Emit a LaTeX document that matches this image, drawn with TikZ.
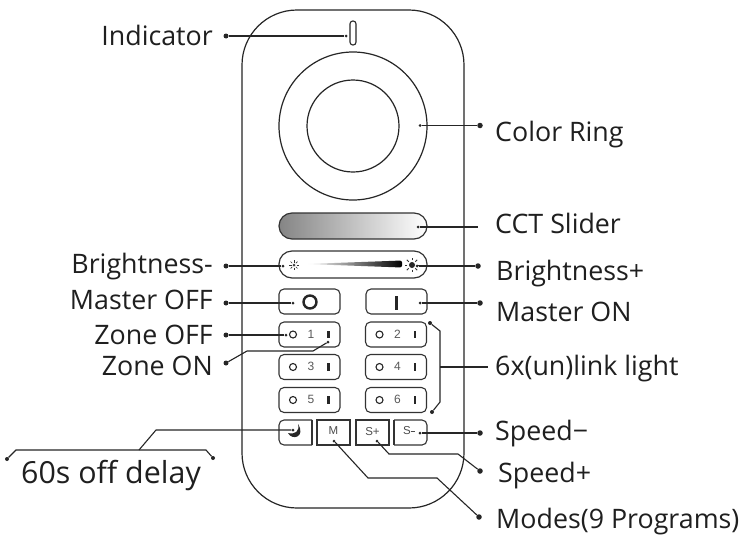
\documentclass[tikz,border=0pt]{standalone}
\usepackage{fontspec}
\setmainfont{Open Sans}
\newfontfamily\btnfont{Liberation Sans}
\tikzset{
  x=1pt,y=-1pt,
  body/.style={draw=black!85,line width=1.2pt,rounded corners=55pt,minimum width=222pt,minimum height=498pt,inner sep=0pt},
  bar/.style={draw=black!80,line width=1.2pt,rounded corners=#1},
  key/.style={draw=black!80,line width=1.1pt,rounded corners=5pt,minimum width=#1,minimum height=25pt,inner sep=0pt,text=black!70,font=\btnfont\fontsize{12}{14}\selectfont},
  keysq/.style={draw=black!80,line width=1.1pt,minimum width=33pt,minimum height=25pt,inner sep=0pt},
  conn/.style={draw=black!85,line width=1.1pt},
  tip/.style={circle,fill=black!85,inner sep=0pt,minimum size=#1},
  lab/.style={inner sep=0pt,text=black!88,font=\fontsize{26.8}{30}\selectfont},
  lbl/.style={lab,anchor=base west},
  lbr/.style={lab,anchor=base east},
  stub/.style={fill=black!85,inner sep=0pt,minimum width=2.2pt,minimum height=7.5pt},
  led/.style={circle,draw=black!85,line width=1.1pt,inner sep=0pt,minimum size=7pt},
  ray/.style={draw=black!80,line width=.7pt}
}
\newcommand{\zonekey}[4]{%
  \node[key=61pt] (#1) at (#2,#3) {};
  \node[led] (#1off) at (#2-16.5,#3) {};
  \node[inner sep=0pt,text=black!65,font=\btnfont\fontsize{12}{14}\selectfont] (#1num) at (#2+1.5,#3-.5) {#4};
  \node[stub] (#1on) at (#2+19,#3) {};
}
\begin{document}
\begin{tikzpicture}
\useasboundingbox (0,0) rectangle (751,541);
\fill[white] (0,0) rectangle (751,541);
% body
\node[body] (remote) at (353,259) {};
% indicator
\node[draw=black!85,line width=1.1pt,rounded corners=2.8pt,minimum width=6pt,minimum height=24pt,inner sep=0pt] (ind) at (353,33) {};
% ring
\node[circle,draw=black!85,line width=1.2pt,minimum size=148pt,inner sep=0pt] (ring) at (353,126) {};
\node[circle,draw=black!85,line width=1.2pt,minimum size=92pt,inner sep=0pt] (hub) at (353,126) {};
% CCT slider
\shade[left color=black!48,right color=white,rounded corners=13pt] (279,213) rectangle (427,239);
\node[bar=13pt,minimum width=148pt,minimum height=26pt,inner sep=0pt] (cct) at (353,226) {};
% brightness
\node[bar=13pt,minimum width=148pt,minimum height=27pt,inner sep=0pt] (bri) at (353,264.5) {};
\shade[left color=white,right color=black,rounded corners=2pt] (307,264) -- (402,260.5) -- (402,267.5) -- cycle;
\coordinate (sunA) at (294,265);
\coordinate (sunB) at (412,265);
\fill[black!75] (sunA) circle[radius=1.5];
\foreach \a in {0,45,...,315} \draw[ray] ([shift={(\a:2.5)}]sunA) -- ([shift={(\a:4.8)}]sunA);
\fill[black!85] (sunB) circle[radius=3];
\foreach \a in {0,45,...,315} \draw[ray,line width=.9pt] ([shift={(\a:4.6)}]sunB) -- ([shift={(\a:7.4)}]sunB);
% master keys
\node[key=61pt] (moff) at (309.5,301.5) {};
\node[circle,draw=black!85,line width=2.4pt,inner sep=0pt,minimum size=13pt] (moffg) at (310,302) {};
\node[key=61pt] (mon) at (396.5,301.5) {};
\node[fill=black!85,inner sep=0pt,minimum width=3pt,minimum height=14pt] (mong) at (396,303) {};
% zone keys
\zonekey{za}{309.5}{334.5}{1}
\zonekey{zb}{396}{334.5}{2}
\zonekey{zc}{309.5}{367}{3}
\zonekey{zd}{396}{367}{4}
\zonekey{ze}{309.5}{400}{5}
\zonekey{zf}{396}{400}{6}
% bottom row
\draw[line width=1.1pt,draw=black!80,rounded corners=5pt] (312,420) -- (279,420) -- (279,445) -- (312,445);
\draw[line width=1.1pt,draw=black!80] (312,420) -- (312,445);
\coordinate (moon) at (295,431);
\fill[black!85] (298,424) .. controls (300,431) and (295,435) .. (288,433) .. controls (292,441) and (306,437) .. (298,424) -- cycle;
\node[keysq,text=black!70,font=\btnfont\fontsize{11.5}{13}\selectfont] (kM) at (333.5,432.5) {\raisebox{3pt}{M}};
\node[keysq,text=black!70,font=\btnfont\fontsize{11.5}{13}\selectfont] (kSp) at (372.5,432.5) {\raisebox{3pt}{S+}};
\draw[line width=1.1pt,draw=black!80,rounded corners=5pt] (394,420) -- (427,420) -- (427,445) -- (394,445);
\draw[line width=1.1pt,draw=black!80] (394,420) -- (394,445);
\node[inner sep=0pt,text=black!70,font=\btnfont\fontsize{11.5}{13}\selectfont] (kSm) at (409,431) {S\rule[2.8pt]{4pt}{1.6pt}};
% labels
\node[lbr] (tInd) at (213,45) {Indicator};
\node[lbl] (tRing) at (495,141) {Color Ring};
\node[lbl] (tCct) at (495,233) {CCT Slider};
\node[lbr] (tBm) at (213,273) {Brightness-};
\node[lbl] (tBp) at (496,280) {Brightness+};
\node[lbr] (tMoff) at (213,309) {Master OFF};
\node[lbl] (tMon) at (496,321) {Master ON};
\node[lbr] (tZoff) at (213,344) {Zone OFF};
\node[lbr] (tZon) at (213,375) {Zone ON};
\node[lbl] (tLink) at (495,375) {6x(un)link light};
\node[lbl] (tSm) at (495,440) {Speed−};
\node[lbl] (tSp) at (498,482) {Speed+};
\node[lbl] (tMod) at (496,528) {Modes(9 Programs)};
\node[lab,anchor=base west,font=\fontsize{30.4}{34}\selectfont] (tDelay) at (21,483) {60s off delay};
% connector anchors
\foreach \n/\x/\y/\s in {
  dInd/226/36/5, dRing/480/125.5/5.5, dBm/226/266/5, dBp/478/266/5.5, dMoff/226/303/5,
  dMon/480/303/5.5, dZoff/226/335/5, dZon/226/363/5, dSm/480/433/5.5, dSp/480/471/5.5,
  dMod/479/517/5.5, dDl/7/459/4, dDr/213/458/4, dBt/430/323/4, dBb/432/412/4} {
  \node[tip=\s pt] (\n) at (\x,\y) {};
}
\foreach \n/\x/\y in {
  eInd/346/36, eRing/420/125.5, eCct/418/227, eBm/283/266, eBp/417/266, eMoff/293/303, eMon/420/303,
  eZoff/286/335, eZon/328/342, eSm/420/433, eSp/377/441, eMod/334/441, eMoon/293/430} {
  \node[tip=3pt] (\n) at (\x,\y) {};
}
\coordinate (fCct) at (478,227);
\coordinate (fLink) at (488,367);
% connectors
\draw[conn] (dInd) -- (eInd);
\draw[conn] (eRing) -- (dRing);
\draw[conn] (eCct) -- (fCct);
\draw[conn] (dBm) -- (eBm);
\draw[conn] (eBp) -- (dBp);
\draw[conn] (dMoff) -- (eMoff);
\draw[conn] (eMon) -- (dMon);
\draw[conn] (dZoff) -- (eZoff);
\draw[conn] (dZon) -- (247,351) -- (313,351) -- (eZon);
\draw[conn] (dBt) -- (440,331) -- (440,402) -- (dBb);
\draw[conn] (440,367) -- (fLink);
\draw[conn] (eSm) -- (dSm);
\draw[conn] (eSp) -- (389,454) -- (458,454) -- (dSp);
\draw[conn] (eMod) -- (368,478) -- (437,478) -- (dMod);
\draw[conn] (dDl) -- (16,450) -- (206,450) -- (dDr);
\draw[conn] (139,450) -- (156,430) -- (eMoon);
\end{tikzpicture}
\end{document}
